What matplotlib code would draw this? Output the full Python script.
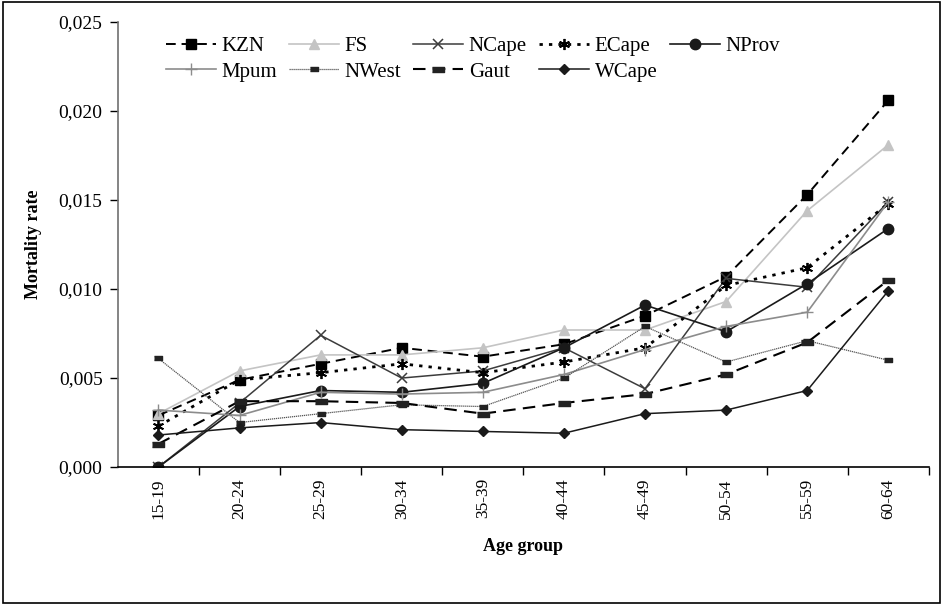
import matplotlib

matplotlib.use("Agg")
import matplotlib.pyplot as plt
from matplotlib.patches import Rectangle
from matplotlib.ticker import FuncFormatter, FixedLocator

plt.rcParams["font.family"] = ["Liberation Serif", "DejaVu Serif"]

ages = ["15-19", "20-24", "25-29", "30-34", "35-39",
        "40-44", "45-49", "50-54", "55-59", "60-64"]

kzn = [0.0029, 0.0049, 0.0058, 0.0067, 0.0062, 0.0069, 0.0085, 0.0107, 0.0153, 0.0206]
fs = [0.0030, 0.0054, 0.0063, 0.0063, 0.0067, 0.0077, 0.0077, 0.0093, 0.0144, 0.0181]
ncape = [0.0000, 0.0036, 0.0074, 0.0050, 0.0054, 0.0067, 0.0044, 0.0106, 0.0101, 0.0149]
ecape = [0.0023, 0.0049, 0.0053, 0.0058, 0.0053, 0.0059, 0.0067, 0.0102, 0.0112, 0.0148]
nprov = [0.0000, 0.0034, 0.0043, 0.0042, 0.0047, 0.0067, 0.0091, 0.0076, 0.0103, 0.0134]
mpum = [0.0032, 0.0029, 0.0042, 0.0041, 0.0042, 0.0052, 0.0066, 0.0079, 0.0087, 0.0149]
nwest = [0.0061, 0.0025, 0.0030, 0.0035, 0.0034, 0.0050, 0.0079, 0.0059, 0.0071, 0.0060]
gaut = [0.0013, 0.0037, 0.0037, 0.0036, 0.0030, 0.0036, 0.0041, 0.0052, 0.0070, 0.0105]
wcape = [0.0018, 0.0022, 0.0025, 0.0021, 0.0020, 0.0019, 0.0030, 0.0032, 0.0043, 0.0099]

bar = [(-1, -0.45), (1, -0.45), (1, 0.45), (-1, 0.45)]

# name, values, line style kwargs
series = [
    ("KZN", kzn, dict(color="black", ls=(0, (5, 3)), lw=1.4, marker="s", ms=7)),
    ("FS", fs, dict(color="#c4c4c4", ls="-", lw=1.2, marker="^", ms=7)),
    ("NCape", ncape, dict(color="#3c3c3c", ls="-", lw=1.1, marker="x", ms=7, mew=1.1)),
    ("ECape", ecape, dict(color="black", ls=(0, (1.2, 2.2)), lw=2.0, marker=(6, 2, 0), ms=8, mew=1.3)),
    ("NProv", nprov, dict(color="#1a1a1a", ls="-", lw=1.2, marker="o", ms=7.5)),
    ("Mpum", mpum, dict(color="#8c8c8c", ls="-", lw=1.2, marker="+", ms=8, mew=1.0)),
    ("NWest", nwest, dict(color="#555555", ls=(0, (1, 0.6)), lw=0.9, marker=bar, ms=6, mfc="#222222", mec="#222222")),
    ("Gaut", gaut, dict(color="black", ls=(0, (6, 3.5)), lw=1.5, marker=bar, ms=8, mfc="#222222", mec="#222222")),
    ("WCape", wcape, dict(color="#1a1a1a", ls="-", lw=1.1, marker="D", ms=5.5)),
]

fig = plt.figure(figsize=(9.43, 6.05), dpi=100)
ax = fig.add_axes([0.125, 0.228, 0.86, 0.7356])

x = list(range(len(ages)))
handles = {}
for name, vals, kw in series:
    (h,) = ax.plot(x, vals, label=name, **kw)
    handles[name] = h

ax.set_xlim(-0.5, len(ages) - 0.5)
ax.set_ylim(0, 0.025)
ax.set_yticks([0, 0.005, 0.010, 0.015, 0.020, 0.025])
ax.yaxis.set_major_formatter(FuncFormatter(lambda v, p: f"{v:.3f}".replace(".", ",")))
ax.set_xticks(x)
ax.set_xticklabels(ages, rotation=90)
ax.xaxis.set_minor_locator(FixedLocator([i + 0.5 for i in range(len(ages))]))
ax.tick_params(axis="x", which="major", length=0, pad=8, labelsize=12.5)
ax.tick_params(axis="x", which="minor", length=6, direction="out", width=1)
ax.tick_params(axis="y", length=6, direction="out", width=1, labelsize=14, pad=5)

for s in ("top", "right"):
    ax.spines[s].set_visible(False)
ax.spines["left"].set_color("#707070")
ax.spines["left"].set_linewidth(1.2)
ax.spines["bottom"].set_linewidth(1.2)

ax.set_ylabel("Mortality rate", fontsize=13, fontweight="bold", labelpad=12)
ax.set_xlabel("Age group", fontsize=13, fontweight="bold", labelpad=14)

order = ["KZN", "Mpum", "FS", "NWest", "NCape", "Gaut", "ECape", "WCape", "NProv"]
ax.legend([handles[n] for n in order], order, ncol=5, frameon=False,
          loc="upper left", bbox_to_anchor=(0.036, 1.01), fontsize=15,
          handlelength=2.4, columnspacing=0.6, labelspacing=0.3,
          handletextpad=0.25)

fig.patches.append(Rectangle((0.003, 0.004), 0.994, 0.992, transform=fig.transFigure,
                             fill=False, edgecolor="black", lw=1.2))

fig.savefig("out.png", dpi=100)
